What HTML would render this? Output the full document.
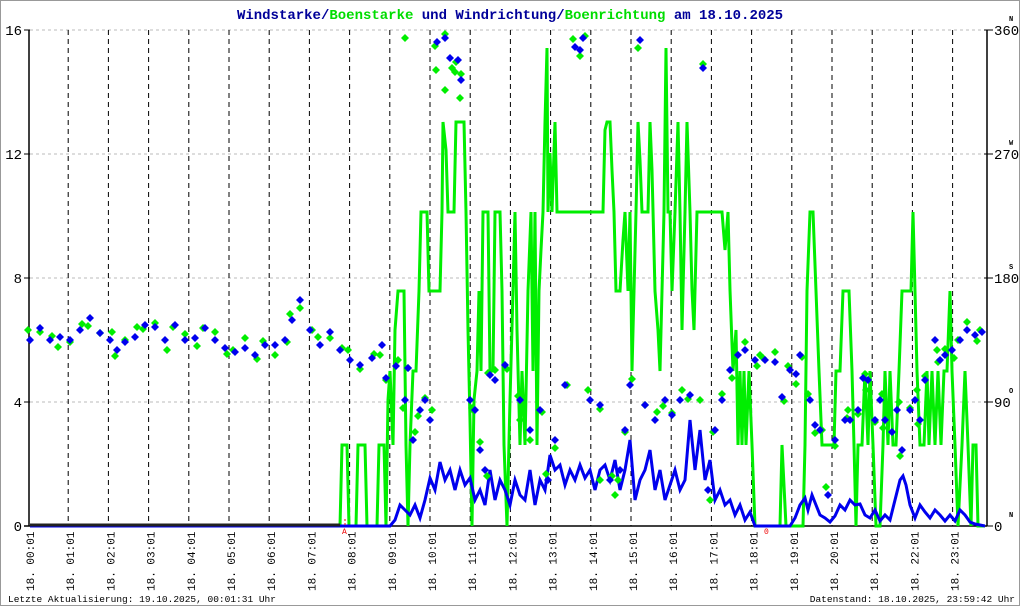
<!DOCTYPE html>
<html><head><meta charset="utf-8"><style>
html,body{margin:0;padding:0;background:#fff}
svg{display:block}
text{font-family:"Liberation Mono","DejaVu Sans Mono",monospace}
</style></head><body>
<svg id="s" width="1020" height="606" viewBox="0 0 1020 606" xmlns="http://www.w3.org/2000/svg">
<rect x="0.5" y="0.5" width="1019" height="605" fill="#fff" stroke="#999"/>
<text x="510" y="19" text-anchor="middle" font-size="14" font-weight="bold" fill="#000099">Windstarke/<tspan fill="#00dd00">Boenstarke</tspan> und Windrichtung/<tspan fill="#00dd00">Boenrichtung</tspan> am 18.10.2025</text>
<g id="grid"></g>
<g id="data"></g>
<text x="8" y="602" font-size="9.5" fill="#000">Letzte Aktualisierung: 19.10.2025, 00:01:31 Uhr</text>
<text x="1015" y="602" font-size="9.5" fill="#000" text-anchor="end">Datenstand: 18.10.2025, 23:59:42 Uhr</text>
</svg>
<script>
var NS="http://www.w3.org/2000/svg";
function el(p,t,a,txt){var e=document.createElementNS(NS,t);for(var k in a)e.setAttribute(k,a[k]);if(txt!==undefined)e.textContent=txt;p.appendChild(e);return e;}
var g=document.getElementById('grid'),d=document.getElementById('data');
var L=['0','4','8','12','16'],R=['0','90','180','270','360'],C=['N','O','S','W','N'];
for(var i=0;i<5;i++){var y=526-124*i;
 if(i>0)el(g,'line',{x1:30,x2:987,y1:y,y2:y,stroke:'#bbb','stroke-dasharray':'3,3'});
 el(g,'line',{x1:24,x2:30,y1:y,y2:y,stroke:'#000'});
 el(g,'line',{x1:984,x2:993,y1:y,y2:y,stroke:'#000'});
 el(g,'text',{x:22,y:y+5,'font-size':14,'text-anchor':'end'},L[i]);
 el(g,'text',{x:994,y:y+5,'font-size':14},R[i]);
 el(g,'text',{x:1009,y:y-9,'font-size':7,'font-weight':'bold'},C[i]);
}
for(var h=0;h<24;h++){var x=28+40.2*h;
 if(h>0)el(g,'line',{x1:x,x2:x,y1:30,y2:526,stroke:'#000','stroke-dasharray':'5,4'});
 var tx=x+6;el(g,'text',{x:0,y:0,'font-size':11,transform:'translate('+tx+',591) rotate(-90)'},'18. '+(h<10?'0':'')+h+':01');
}
el(g,'line',{x1:29,x2:29,y1:30,y2:526,stroke:'#000','stroke-width':1.5});
el(g,'line',{x1:987,x2:987,y1:30,y2:526,stroke:'#000','stroke-width':1.5});
el(g,'line',{x1:24,x2:987,y1:526,y2:526,stroke:'#000','stroke-width':1.5});
var gp=[[30,526],[340,526],[342,445],[347,445],[349,526],[356,526],[358,445],[365,445],[367,526],[377,526],[379,445],[384,445],[386,526],[388,400],[390,371],[393,445],[395,330],[398,291],[404,291],[406,445],[408,526],[410,445],[413,371],[416,371],[419,291],[421,212],[427,212],[429,291],[440,291],[442,212],[443,122],[446,150],[448,212],[454,212],[456,122],[464,122],[466,212],[468,330],[470,420],[472,526],[474,400],[477,371],[479,291],[481,371],[483,212],[488,212],[490,371],[493,371],[495,212],[500,212],[502,291],[504,445],[507,526],[510,400],[513,291],[515,212],[517,330],[520,445],[522,371],[525,445],[528,291],[531,212],[533,371],[535,212],[537,445],[539,291],[541,250],[543,212],[545,122],[547,48],[548,212],[550,153],[552,212],[555,122],[557,212],[603,212],[605,130],[607,122],[610,122],[612,170],[614,212],[616,291],[620,291],[623,240],[625,212],[628,291],[630,212],[632,371],[634,291],[636,212],[638,122],[640,160],[642,212],[648,212],[650,122],[652,170],[655,291],[658,330],[660,371],[662,291],[664,212],[666,48],[668,212],[670,212],[672,291],[675,212],[678,122],[680,212],[682,330],[685,212],[687,122],[690,212],[692,290],[694,330],[697,212],[722,212],[725,250],[728,212],[730,290],[733,371],[736,330],[738,445],[740,371],[742,445],[744,371],[746,445],[749,371],[752,445],[755,526],[780,526],[782,445],[786,526],[803,526],[805,445],[807,291],[810,212],[813,212],[816,291],[819,371],[822,445],[834,445],[836,371],[840,371],[843,291],[849,291],[852,371],[854,445],[856,526],[858,445],[862,445],[865,371],[868,445],[870,371],[873,445],[876,526],[880,526],[883,445],[885,371],[888,445],[890,371],[893,445],[896,445],[899,371],[902,291],[911,291],[913,212],[915,291],[917,371],[920,445],[924,445],[927,371],[929,445],[932,371],[935,445],[938,371],[941,445],[944,371],[947,371],[950,291],[952,371],[955,445],[958,526],[962,445],[965,371],[968,445],[971,526],[973,445],[976,445],[978,526],[985,526]];
el(d,'polyline',{points:gp.map(p=>p.join(',')).join(' '),fill:'none',stroke:'#00ee00','stroke-width':3,'stroke-linejoin':'miter'});
var bp=[[30,526],[390,526],[395,520],[400,505],[405,510],[410,515],[415,505],[420,518],[425,500],[430,478],[435,490],[440,462],[445,480],[450,470],[455,490],[460,470],[465,485],[470,478],[475,500],[480,490],[485,505],[490,470],[495,500],[500,480],[505,490],[510,505],[515,480],[520,495],[525,500],[530,470],[535,505],[540,480],[545,490],[550,455],[555,470],[560,465],[565,485],[570,470],[575,480],[580,465],[585,478],[590,470],[595,490],[600,470],[605,465],[610,480],[615,460],[620,490],[625,470],[630,440],[635,500],[640,480],[645,470],[650,450],[655,490],[660,470],[665,500],[670,485],[675,470],[680,490],[685,480],[690,420],[695,470],[700,430],[705,480],[710,460],[715,500],[720,490],[725,505],[730,500],[735,515],[740,505],[745,520],[750,512],[755,526],[790,526],[795,518],[800,505],[805,498],[808,510],[812,495],[816,505],[820,515],[825,518],[830,522],[835,516],[840,505],[845,510],[850,500],[855,505],[860,504],[865,515],[870,518],[875,510],[880,521],[885,515],[890,520],[895,500],[900,480],[903,476],[906,485],[910,505],[915,518],[920,505],[925,512],[930,518],[935,510],[940,515],[945,521],[950,515],[955,521],[960,510],[965,515],[970,522],[975,524],[985,526]];
el(d,'polyline',{points:bp.map(p=>p.join(',')).join(' '),fill:'none',stroke:'#0000ee','stroke-width':3});
el(d,'line',{x1:30,x2:340,y1:525,y2:525,stroke:'#222','stroke-width':3});
var bd=[[30,340],[40,328],[50,340],[60,337],[70,340],[80,330],[90,318],[100,333],[110,340],[117,350],[125,342],[135,337],[145,325],[155,327],[165,340],[175,325],[185,340],[195,338],[205,328],[215,340],[225,348],[235,352],[245,348],[255,355],[265,345],[275,345],[285,340],[292,320],[300,300],[310,330],[320,345],[330,332],[340,350],[350,360],[360,365],[372,358],[382,345],[386,378],[396,366],[405,400],[408,368],[413,440],[420,410],[425,400],[430,420],[437,42],[445,38],[450,58],[458,60],[461,80],[470,400],[475,410],[480,450],[485,470],[490,375],[495,380],[505,365],[520,400],[530,430],[540,410],[548,480],[555,440],[565,385],[575,47],[580,50],[583,38],[590,400],[600,405],[610,480],[620,470],[625,430],[630,385],[640,40],[645,405],[655,420],[665,400],[672,415],[680,400],[690,395],[703,68],[708,490],[715,430],[722,400],[730,370],[738,355],[745,350],[755,360],[765,360],[775,362],[782,397],[790,370],[796,374],[800,355],[810,400],[815,425],[820,430],[828,495],[835,440],[845,420],[850,420],[858,410],[863,378],[868,380],[875,420],[880,400],[885,420],[892,432],[897,410],[902,450],[910,410],[915,400],[920,420],[925,380],[935,340],[940,360],[945,355],[952,350],[960,340],[967,330],[975,335],[982,332]];
var gd=bd.map((p,i)=>[p[0]+((i%3)-1)*2,p[1]+((i*7)%11-5)*2]);
gd=gd.concat([[436,70],[455,72],[460,98],[445,90],[520,420],[600,480],[615,495],[700,400],[760,355],[405,38]]);
function dia(p,c){el(d,'polygon',{points:(p[0])+','+(p[1]-4)+' '+(p[0]+4)+','+p[1]+' '+p[0]+','+(p[1]+4)+' '+(p[0]-4)+','+p[1],fill:c});}
gd.forEach(p=>dia(p,'#00ee00'));
bd.forEach(p=>dia(p,'#0000ee'));
el(d,'line',{x1:345,x2:345,y1:519,y2:526,stroke:'#e00','stroke-dasharray':'2,2'});
el(d,'text',{x:342,y:534,'font-size':8,fill:'#e00'},'A');
el(d,'text',{x:764,y:534,'font-size':8,fill:'#e00'},'0');
</script>
</body></html>
